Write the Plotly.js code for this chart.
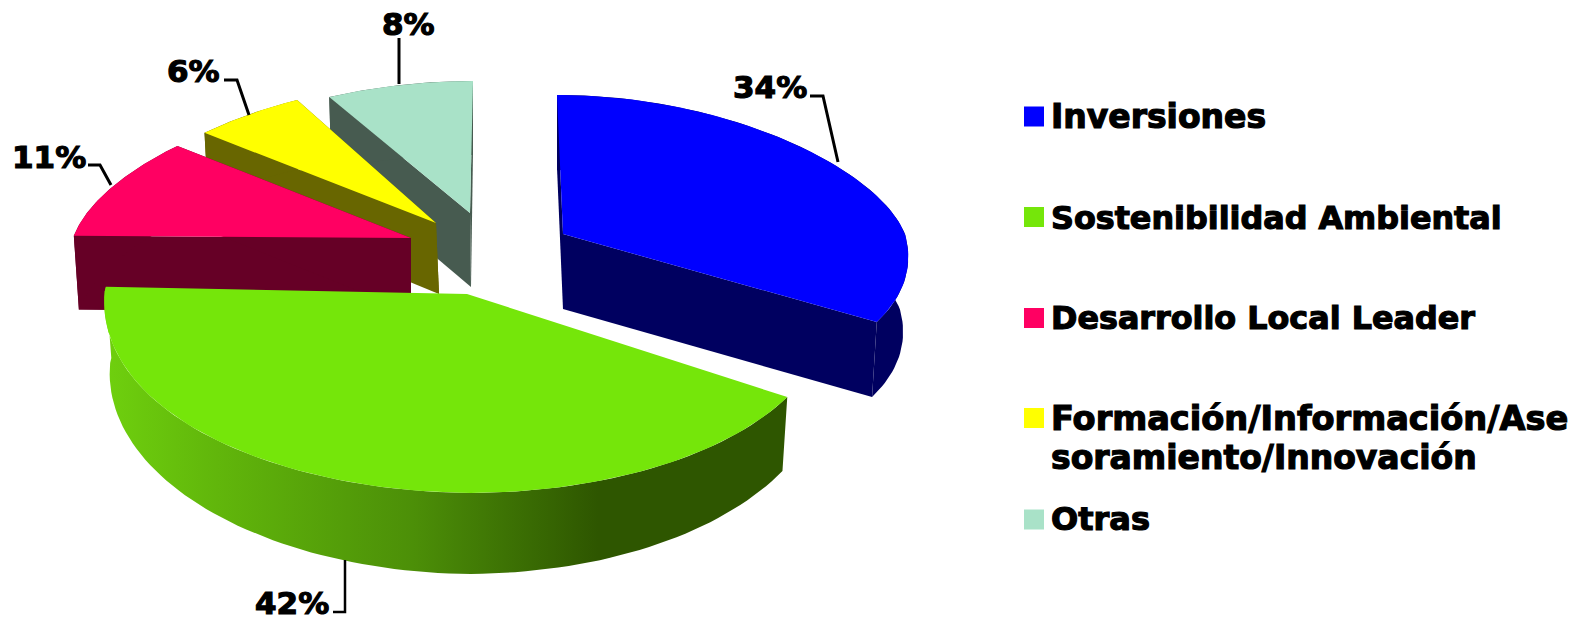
<!DOCTYPE html>
<html><head><meta charset="utf-8">
<script src="https://cdn.plot.ly/plotly-3.0.1.min.js"></script>
<style>html,body{margin:0;padding:0;background:#fff}
.annotation-text{stroke:#000;stroke-width:1.2px;}</style>
</head><body><div id="chart" style="width:1578px;height:623px"></div>
<script>
// data
const categories = ["Inversiones","Sostenibilidad Ambiental","Desarrollo Local Leader","Formación/Información/Asesoramiento/Innovación","Otras"];
const values = [34,42,11,6,8];
const legendLines = [["Inversiones"],["Sostenibilidad Ambiental"],["Desarrollo Local Leader"],["Formación/Información/Ase","soramiento/Innovación"],["Otras"]];
// styles
const topColors  = ["#0000ff","#75e60a","#ff0062","#ffff00","#a9e2c8"];
const sideColors = ["#000060","#2e5600","#660026","#686600","#475b50"];
const legendFontSizes = [[33],[31.8],[31.8],[33.6,33],[32]];
// geometry of the tilted, exploded pie (plot coordinates = page pixels)
const centerX = [563,467,411,436,470];
const centerY = [234,294,238,223,213];
const radiusX = [342,362,338,335,346];
const radiusBack = [139,139,143,140,132];
const radiusFront = [170,199,170,170,170];
const frontWiden = [0.14,0.066,0.1,0.1,0.1];
const backTilt = [-6,0,0,0,3];
const leftLift = [0,0.014,0,0,0];
const depth = [75,81,74,71,74];
const depthFalloff = [0,0.12,0,0.12,0.12];
const apexDrift = [0,0,0,3,1];
const shrink = 0.985;

const total = values.reduce((a,b)=>a+b,0);
function pt(i,deg,down){
  const t = deg*Math.PI/180, c = Math.cos(t), s = Math.sin(t);
  const widen = c>0 ? 1-0.15*c : 1-frontWiden[i]*c;
  let x = radiusX[i]*widen*s + (c>0 ? backTilt[i]*c : 0);
  let y = -(c>0?radiusBack[i]:radiusFront[i])*c + leftLift[i]*Math.min(x,0);
  if(down){ x*=shrink; y+=depth[i]*(1-depthFalloff[i]*s*s); }
  return [centerX[i]+x, centerY[i]+y];
}
function arc(i,a0,a1,down){
  const n=90, out=[];
  for(let k=0;k<=n;k++) out.push(pt(i,a0+(a1-a0)*k/n,down));
  return out;
}
function poly(points,color,extra){
  const p = points.concat([points[0]]);
  return Object.assign({type:'scatter',mode:'lines',x:p.map(q=>q[0]),y:p.map(q=>q[1]),
    fill:'toself',fillcolor:color,line:{width:0,color:color},hoverinfo:'skip',showlegend:false},extra||{});
}
const starts=[]; let acc=0;
values.forEach(v=>{starts.push(acc/total*360); acc+=v;});
const traces=[];
// back to front: Otras, Formación, Desarrollo, Inversiones, Sostenibilidad
[4,3,2,0,1].forEach(i=>{
  const a0=starts[i], a1=a0+values[i]/total*360;
  const ax=centerX[i], ay=centerY[i], bottomApex=[ax+apexDrift[i],ay+depth[i]];
  if(i!==1){
    traces.push(poly([[ax,ay],pt(i,a0,false),pt(i,a0,true),bottomApex],sideColors[i]));
    traces.push(poly([[ax,ay],pt(i,a1,false),pt(i,a1,true),bottomApex],sideColors[i]));
  }
  const wall=arc(i,a0,a1,false).concat(arc(i,a0,a1,true).reverse());
  if(i===1){
    traces.push(poly(wall,sideColors[i],{fillgradient:{type:'horizontal',start:105,stop:790,
      colorscale:[[0,'#6fd00e'],[0.15,'#62b80b'],[0.45,'#4c8f08'],[0.72,'#2e5600'],[1,'#2e5600']]}}));
  } else {
    traces.push(poly(wall,sideColors[i]));
  }
  traces.push(poly([[ax,ay]].concat(arc(i,a0,a1,false)),topColors[i]));
});
// leader lines
const leaders=[
  {x:[810,823,838],y:[96,96,162],w:3},
  {x:[345,345,333],y:[560,612,612],w:2.5},
  {x:[88,100,111],y:[165,165,185],w:3},
  {x:[224,237,249],y:[80,80,115],w:3},
  {x:[399,399],y:[38,84],w:3}
];
leaders.forEach(l=>traces.push({type:'scatter',mode:'lines',x:l.x,y:l.y,line:{color:'#000',width:l.w},hoverinfo:'skip',showlegend:false}));
// legend swatches
const swatchY=[116.5,217,318,418,519.5];
const textY=[116,217,317,418,519];
traces.push({type:'scatter',mode:'markers',x:swatchY.map(()=>1034),y:swatchY,hoverinfo:'skip',showlegend:false,
  marker:{symbol:'square',size:20,color:topColors,line:{width:0}}});

const font={family:'"DejaVu Sans",Verdana,sans-serif',size:33,color:'#000',weight:700};
const labelX=[770,292,49,193,408], labelY=[87,603,157,71,24];
const annotations=values.map((v,i)=>({xref:'x',yref:'y',x:labelX[i],y:labelY[i],text:v+'%',showarrow:false,
  xanchor:'center',yanchor:'middle',font:Object.assign({},font,{size:31})}));
legendLines.forEach((lines,i)=>lines.forEach((t,j)=>annotations.push({xref:'x',yref:'y',x:1049,y:textY[i]+j*39,text:t,
  showarrow:false,xanchor:'left',yanchor:'middle',font:Object.assign({},font,{size:legendFontSizes[i][j]})})));

Plotly.newPlot('chart',traces,{
  width:1578,height:623,margin:{l:0,r:0,t:0,b:0},paper_bgcolor:'#fff',plot_bgcolor:'#fff',showlegend:false,
  xaxis:{range:[0,1578],visible:false,fixedrange:true},
  yaxis:{range:[623,0],visible:false,fixedrange:true},
  annotations:annotations
},{displayModeBar:false,staticPlot:true});
</script></body></html>
